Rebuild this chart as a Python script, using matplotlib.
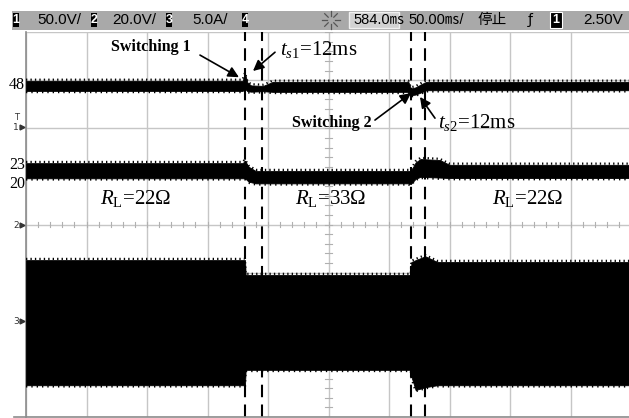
import matplotlib
matplotlib.use("Agg")
import matplotlib.pyplot as plt
from matplotlib.patches import Rectangle
from matplotlib.lines import Line2D

plt.rcParams['mathtext.fontset'] = 'custom'
plt.rcParams['mathtext.rm'] = 'Liberation Serif'
plt.rcParams['mathtext.it'] = 'Liberation Serif:italic'
plt.rcParams['mathtext.bf'] = 'Liberation Serif:bold'

W, H = 629, 418

# switching instants (ms on the 50 ms/div time base)
switch_t = [181, 195, 318, 330]

# ch1: output voltage, 50 V/div, marker at 6 div
ch1_t = [0, 179, 181, 183, 186, 196, 204, 316, 318, 322, 327, 331, 500]
ch1_hi = [49.2, 49.2, 56.5, 47.5, 44.5, 44.0, 48.2, 48.2, 41.3, 42.5, 46.0, 48.2, 48.2]
ch1_lo = [38.8, 38.8, 41.0, 38.5, 38.0, 38.5, 37.8, 37.8, 34.3, 35.0, 37.5, 39.5, 39.5]

# ch2: 20 V/div, marker at 4 div
ch2_t = [0, 179, 181, 184, 190, 316, 318, 322, 326, 342, 350, 500]
ch2_hi = [25.5, 25.5, 26.5, 24.0, 22.2, 22.2, 22.2, 25.8, 27.2, 26.8, 24.8, 24.8]
ch2_lo = [19.2, 19.2, 19.2, 17.8, 17.1, 17.1, 16.8, 19.0, 19.8, 19.5, 19.3, 19.3]

# ch3: load current, 5 A/div, marker at 2 div
ch3_t = [0, 181, 181.5, 318, 318.5, 322, 330, 340, 500]
ch3_hi = [6.3, 6.3, 4.75, 4.75, 6.1, 6.3, 6.7, 6.1, 6.1]
ch3_lo = [-6.7, -6.7, -5.1, -5.1, -5.8, -7.2, -6.9, -6.7, -6.7]

channels = [(ch1_t, ch1_hi, ch1_lo, 50.0, 6), (ch2_t, ch2_hi, ch2_lo, 20.0, 4),
            (ch3_t, ch3_hi, ch3_lo, 5.0, 2)]

load_labels = [r"$R_{\mathrm{L}}$=22Ω", r"$R_{\mathrm{L}}$=33Ω", r"$R_{\mathrm{L}}$=22Ω"]
load_pos = [91, 252, 415]

side_labels = ["48", "23", "20"]
side_y = [85, 165, 184]

header = [("1", "50.0V/"), ("2", "20.0V/"), ("3", "5.0A/"), ("4", "")]
header_box_x = [13, 91, 166, 242]
header_txt_x = [37, 112, 192, 0]


def fx(x):
    return x / W


def fy(y):
    return 1 - y / H


fig = plt.figure(figsize=(W / 100, H / 100), dpi=100)
ax = fig.add_axes([fx(26), fy(417), 605 / W, 385 / H])
ax.set_xlim(0, 500)
ax.set_ylim(0, 8)
ax.set_xticks(range(0, 501, 50))
ax.set_yticks(range(0, 9))
ax.tick_params(length=0, labelbottom=False, labelleft=False)
ax.set_axisbelow(True)
ax.grid(True, color='#c6c6c6', lw=1)
for s in ['top', 'right', 'bottom']:
    ax.spines[s].set_visible(False)
ax.spines['left'].set_color('#8c8c8c')
ax.spines['left'].set_linewidth(1.2)

# minor ticks on the centre lines
for i in range(51):
    ax.plot([i * 10, i * 10], [3.94, 4.06], color='#b0b0b0', lw=0.8, zorder=1)
for i in range(41):
    ax.plot([247.5, 252.5], [i * 0.2, i * 0.2], color='#b0b0b0', lw=0.8, zorder=1)

# traces: filled envelopes with a ragged dotted fringe for the noise
px_div = 48.125
for t, hi, lo, scale, off in channels:
    top = [off + v / scale for v in hi]
    bot = [off + v / scale for v in lo]
    ax.fill_between(t, top, bot, color='black', lw=0.6, edgecolor='black', zorder=3)
    ax.plot(t, [v + 1.2 / px_div for v in top], color='black', lw=1.6,
            ls=(0, (0.6, 1.4)), zorder=3)
    ax.plot(t, [v - 1.2 / px_div for v in bot], color='black', lw=1.6,
            ls=(0, (0.6, 1.8)), zorder=3)

for ts in switch_t:
    ax.axvline(ts, color='black', lw=1.5, ls=(0, (6, 3.5)), zorder=4)

# annotations
aprops = dict(arrowstyle='-|>', mutation_scale=16, color='black', lw=1.2,
              shrinkA=0, shrinkB=0)
ax.annotate("", xy=(176, 7.06), xytext=(143.8, 7.52), arrowprops=aprops)
ax.text(70, 7.69, "Switching 1", family='Liberation Serif', weight='bold',
        fontsize=11.5, ha='left', va='center')
ax.annotate("", xy=(187.6, 7.19), xytext=(205.8, 7.58), arrowprops=aprops)
ax.text(210, 7.63, r"$t_{s\mathrm{1}}$=12ms", family='Liberation Serif',
        fontsize=15, ha='left', va='center')
ax.annotate("", xy=(318.2, 6.73), xytext=(288.4, 6.17), arrowprops=aprops)
ax.text(286, 6.11, "Switching 2", family='Liberation Serif', weight='bold',
        fontsize=11.5, ha='right', va='center')
ax.annotate("", xy=(325.6, 6.65), xytext=(338, 6.21), arrowprops=aprops)
ax.text(340.5, 6.11, r"$t_{s\mathrm{2}}$=12ms", family='Liberation Serif',
        fontsize=15, ha='left', va='center')
for lab, xp in zip(load_labels, load_pos):
    ax.text(xp, 4.55, lab, family='Liberation Serif', fontsize=15,
            ha='center', va='center')

# left side labels
for lab, yp in zip(side_labels, side_y):
    fig.text(fx(25), fy(yp), lab, family='Liberation Serif', fontsize=11.5,
             ha='right', va='center')

# channel markers
for lab, yp in [("1", 127), ("2", 225), ("3", 321)]:
    fig.text(fx(13), fy(yp), lab, fontsize=6.5, ha='left', va='center', color='#333333')
    fig.add_artist(Line2D([fx(22)], [fy(yp)], marker='>', ms=3.5, color='#333333',
                          transform=fig.transFigure))
fig.text(fx(14), fy(118), "T", fontsize=6, ha='left', va='center', color='#333333')

# bottom frame line
fig.add_artist(Line2D([fx(14), fx(629)], [fy(417), fy(417)], color='#8c8c8c', lw=1.2,
                      transform=fig.transFigure))

# header bar
hfont = ['Liberation Sans Narrow', 'Liberation Sans', 'Noto Sans CJK SC', 'DejaVu Sans']
fig.add_artist(Rectangle((fx(12), fy(30)), (W - 12) / W, 19 / H, transform=fig.transFigure,
                         facecolor='#a9a9a9', edgecolor='none'))
for (num, txt), bx, tx in zip(header, header_box_x, header_txt_x):
    fig.add_artist(Rectangle((fx(bx), fy(27)), 6 / W, 14 / H, transform=fig.transFigure,
                             facecolor='black', edgecolor='none'))
    fig.text(fx(bx + 3), fy(20), num, color='white', fontsize=9, weight='bold',
             family=hfont, ha='center', va='center')
    if txt:
        fig.text(fx(tx), fy(20), txt, color='black', fontsize=11, family=hfont,
                 ha='left', va='center')

# sun icon
for dx, dy in [(1, 0), (0.7, 0.7), (0, 1), (-0.7, 0.7), (-1, 0), (-0.7, -0.7), (0, -1), (0.7, -0.7)]:
    fig.add_artist(Line2D([fx(331 + dx * 4), fx(331 + dx * 9)], [fy(20 + dy * 4), fy(20 + dy * 9)],
                          color='#555555', lw=0.9, transform=fig.transFigure))

fig.add_artist(Rectangle((fx(349), fy(28)), 50 / W, 16 / H, transform=fig.transFigure,
                         facecolor='#d2d2d2', edgecolor='#f0f0f0', lw=1))
fig.text(fx(353), fy(20), "584.0㎳", fontsize=10.5, family=hfont, ha='left', va='center')
fig.text(fx(408), fy(20), "50.00㎳/", fontsize=10.5, family=hfont, ha='left', va='center')
fig.text(fx(477), fy(20), "停止", fontsize=10.5, family=['Noto Sans CJK SC', 'DejaVu Sans'],
         ha='left', va='center')
fig.text(fx(530), fy(20), "ƒ", fontsize=10, family='DejaVu Sans', ha='center', va='center')
fig.add_artist(Rectangle((fx(550), fy(28)), 12 / W, 16 / H, transform=fig.transFigure,
                         facecolor='black', edgecolor='white', lw=0.8))
fig.text(fx(556), fy(20), "1", color='white', fontsize=9, weight='bold',
         family=hfont, ha='center', va='center')
fig.text(fx(583), fy(20), "2.50V", fontsize=11, family=hfont, ha='left', va='center')

fig.savefig("out.png", dpi=100)
